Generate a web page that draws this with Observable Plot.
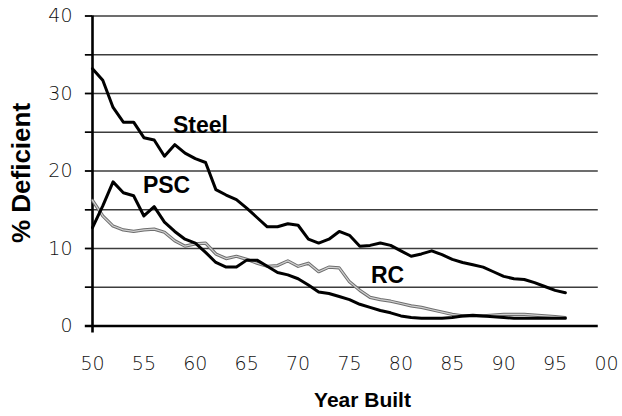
<!DOCTYPE html>
<html>
<head>
<meta charset="utf-8">
<script src="https://cdn.jsdelivr.net/npm/d3@7"></script>
<script src="https://cdn.jsdelivr.net/npm/@observablehq/plot@0.6"></script>
<style>
  html, body { margin: 0; padding: 0; background: #fff; }
  #chart svg { display: block; }
</style>
</head>
<body>
<div id="chart"></div>
<script>
// ---- data ----
const years = d3.range(1950, 1997);
const steel = [33.2, 31.7, 28.2, 26.3, 26.3, 24.3, 24.0, 21.9, 23.4, 22.3,
  21.6, 21.1, 17.6, 16.9, 16.3, 15.2, 14.0, 12.8, 12.8, 13.2,
  13.0, 11.2, 10.7, 11.2, 12.2, 11.7, 10.3, 10.4, 10.7, 10.4,
  9.7, 9.0, 9.3, 9.7, 9.2, 8.6, 8.2, 7.9, 7.6, 7.0,
  6.4, 6.1, 6.0, 5.6, 5.1, 4.6, 4.3];
const psc = [12.7, 15.5, 18.6, 17.2, 16.8, 14.2, 15.4, 13.4, 12.2, 11.2,
  10.7, 9.5, 8.2, 7.6, 7.6, 8.5, 8.5, 7.7, 6.9, 6.6,
  6.1, 5.3, 4.4, 4.2, 3.8, 3.4, 2.8, 2.4, 2.0, 1.7,
  1.3, 1.1, 1.0, 1.0, 1.0, 1.1, 1.3, 1.4, 1.3, 1.2,
  1.1, 1.0, 1.0, 1.0, 1.0, 1.0, 1.0];
const rc = [16.2, 14.2, 12.9, 12.4, 12.2, 12.4, 12.5, 12.1, 11.0, 10.3,
  10.6, 10.7, 9.3, 8.7, 9.0, 8.6, 8.1, 7.7, 7.8, 8.4,
  7.7, 8.1, 7.0, 7.6, 7.5, 5.7, 4.6, 3.7, 3.4, 3.2,
  2.9, 2.6, 2.4, 2.1, 1.8, 1.5, 1.3, 1.3, 1.3, 1.4,
  1.5, 1.5, 1.5, 1.4, 1.3, 1.2, 1.1];

const labelNames = ["Steel", "PSC", "RC"];
const labelYears = [1960.5, 1957.2, 1978.7];
const labelValues = [25.9, 18.1, 6.5];

const xTicks = d3.range(1950, 2001, 5);
const yTicks = d3.range(0, 41, 5);
const gridValues = d3.range(5, 41, 5);

const steelData = years.map((y, i) => ({year: y, value: steel[i]}));
const pscData = years.map((y, i) => ({year: y, value: psc[i]}));
const rcData = years.map((y, i) => ({year: y, value: rc[i]}));
const labels = labelNames.map((n, i) => ({name: n, year: labelYears[i], value: labelValues[i]}));

const tickFont = "'DejaVu Sans', 'Lato', sans-serif";
const boldFont = "'Liberation Sans', Arial, sans-serif";

const chart = Plot.plot({
  width: 622,
  height: 416,
  marginLeft: 92,
  marginRight: 16,
  marginTop: 15.5,
  marginBottom: 90.5,
  x: {domain: [1950, 2000]},
  y: {domain: [0, 40]},
  style: {background: "#fff", color: "#000"},
  marks: [
    // grid
    Plot.ruleY(gridValues, {x1: 1949.3, x2: 1999.2, stroke: "#3c3c3c", strokeWidth: 1.5}),
    // y axis (ticks + labels)
    Plot.axisY({
      ticks: yTicks,
      tickSize: 7,
      tickPadding: 13,
      tickFormat: d => d % 10 === 0 ? String(d) : "",
      stroke: "#000",
      strokeWidth: 1.5,
      fontSize: 19,
      fontFamily: tickFont,
      fontWeight: 200,
      fill: "#111",
      label: null
    }),
    // x axis labels
    Plot.axisX({
      ticks: xTicks,
      tickSize: 0,
      tickPadding: 30,
      tickFormat: d => String(d % 100).padStart(2, "0"),
      fontSize: 19,
      fontFamily: tickFont,
      fontWeight: 200,
      fill: "#111",
      label: null
    }),
    // axis lines
    Plot.ruleY([0], {x1: 1949.3, x2: 1999.2, stroke: "#000", strokeWidth: 2.6}),
    Plot.ruleX([1950], {y1: -0.9, y2: 40, stroke: "#000", strokeWidth: 2.6}),
    // RC (grey double line)
    Plot.line(rcData, {x: "year", y: "value", stroke: "#6e6e6e", strokeWidth: 3.2, strokeLinejoin: "round"}),
    Plot.line(rcData, {x: "year", y: "value", stroke: "#d0d0d0", strokeWidth: 1.2, strokeLinejoin: "round"}),
    // PSC and Steel
    Plot.line(pscData, {x: "year", y: "value", stroke: "#000", strokeWidth: 3, strokeLinejoin: "round"}),
    Plot.line(steelData, {x: "year", y: "value", stroke: "#000", strokeWidth: 3, strokeLinejoin: "round"}),
    // series labels
    Plot.text(labels, {x: "year", y: "value", text: "name", fontSize: 23, fontWeight: "bold",
      fontFamily: boldFont, fill: "#000", textAnchor: "middle"}),
    // axis titles
    Plot.text(["Year Built"], {frameAnchor: "bottom", dx: 13, dy: 74, lineAnchor: "middle", textAnchor: "middle",
      fontSize: 21, fontWeight: "bold", fontFamily: boldFont, fill: "#000"}),
    Plot.text(["% Deficient"], {frameAnchor: "left", dx: -71, dy: 2, rotate: -90, textAnchor: "middle",
      lineAnchor: "middle", fontSize: 26, fontWeight: "bold", fontFamily: boldFont, fill: "#000"})
  ]
});

document.getElementById("chart").appendChild(chart);
</script>
</body>
</html>
